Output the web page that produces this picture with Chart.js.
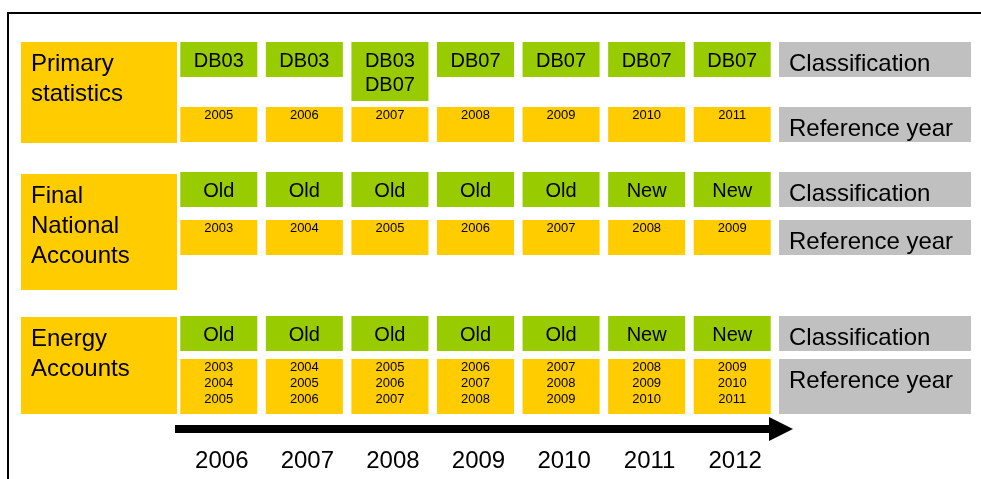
<!DOCTYPE html>
<html lang="en">

<head>
    <meta charset="UTF-8">
    <title>Classification and reference years</title>
    <script src="https://cdn.jsdelivr.net/npm/chart.js@4"></script>
    <style>
        html, body { margin: 0; padding: 0; background: #fff; }
        canvas { display: block; }
    </style>
</head>

<body>
    <canvas id="myChart" width="981" height="479"></canvas>

    <script>
        // years along the time axis
        const years = ['2006', '2007', '2008', '2009', '2010', '2011', '2012'];
        const groups = ['Primary\nstatistics', 'Final\nNational\nAccounts', 'Energy\nAccounts'];
        const rowNames = ['Classification', 'Reference year'];

        const primaryClass = ['DB03', 'DB03', 'DB03\nDB07', 'DB07', 'DB07', 'DB07', 'DB07'];
        const primaryRef = ['2005', '2006', '2007', '2008', '2009', '2010', '2011'];
        const nationalClass = ['Old', 'Old', 'Old', 'Old', 'Old', 'New', 'New'];
        const nationalRef = ['2003', '2004', '2005', '2006', '2007', '2008', '2009'];
        const energyClass = ['Old', 'Old', 'Old', 'Old', 'Old', 'New', 'New'];
        const energyRef = ['2003\n2004\n2005', '2004\n2005\n2006', '2005\n2006\n2007', '2006\n2007\n2008',
            '2007\n2008\n2009', '2008\n2009\n2010', '2009\n2010\n2011'];

        // vertical layout of each block (y axis runs top -> bottom)
        const bands = [
            { top: 42, bottom: 143, cls: 42, ref: [107, 142] },
            { top: 174, bottom: 290, cls: 172, ref: [220, 255] },
            { top: 317, bottom: 414, cls: 316, ref: [359, 414] }
        ];
        const CLS_H = 35;
        const CLS_LINE = 24;
        const FONT = "'Liberation Sans', Arial, sans-serif";
        const GREEN = '#99CC00', YELLOW = '#FFCC00', GREY = '#C0C0C0';

        const classSets = [primaryClass, nationalClass, energyClass];
        const refSets = [primaryRef, nationalRef, energyRef];

        const datasets = [];
        classSets.forEach((labels, g) => {
            datasets.push({
                label: groups[g].replace(/\n/g, ' ') + ' - ' + rowNames[0],
                kind: 'cls',
                texts: labels,
                data: labels.map(t => [bands[g].cls, bands[g].cls + CLS_H + (t.split('\n').length - 1) * CLS_LINE]),
                backgroundColor: GREEN
            });
            datasets.push({
                label: groups[g].replace(/\n/g, ' ') + ' - ' + rowNames[1],
                kind: 'ref',
                texts: refSets[g],
                data: refSets[g].map(() => [bands[g].ref[0], bands[g].ref[1]]),
                backgroundColor: YELLOW
            });
        });

        const diagramPlugin = {
            id: 'diagram',
            beforeDatasetsDraw(chart) {
                const { ctx, chartArea, scales } = chart;
                const y = scales.y;
                ctx.save();
                bands.forEach((b, g) => {
                    // block label on the left
                    const top = y.getPixelForValue(b.top);
                    const bottom = y.getPixelForValue(b.bottom);
                    ctx.fillStyle = YELLOW;
                    ctx.fillRect(21, top, chartArea.left + 1 - 21, bottom - top);
                    ctx.fillStyle = '#000';
                    ctx.font = '24px ' + FONT;
                    ctx.textAlign = 'left';
                    ctx.textBaseline = 'alphabetic';
                    groups[g].split('\n').forEach((line, i) => {
                        ctx.fillText(line, 31, top + 29 + i * 30);
                    });

                    // grey row names on the right
                    const rows = [[b.cls, b.cls + CLS_H], b.ref];
                    rows.forEach((r, i) => {
                        const t = y.getPixelForValue(r[0]);
                        const bt = y.getPixelForValue(r[1]);
                        ctx.fillStyle = GREY;
                        ctx.fillRect(chartArea.right + 4, t, 192, bt - t);
                        ctx.fillStyle = '#000';
                        ctx.fillText(rowNames[i], chartArea.right + 14, t + 29);
                    });
                });
                ctx.restore();
            },
            afterDatasetsDraw(chart) {
                const { ctx } = chart;
                ctx.save();
                ctx.fillStyle = '#000';
                ctx.textAlign = 'center';
                ctx.textBaseline = 'alphabetic';
                chart.data.datasets.forEach((ds, i) => {
                    const meta = chart.getDatasetMeta(i);
                    meta.data.forEach((bar, j) => {
                        const top = Math.min(bar.y, bar.base);
                        const lines = ds.texts[j].split('\n');
                        if (ds.kind === 'cls') {
                            ctx.font = '20px ' + FONT;
                            lines.forEach((l, k) => ctx.fillText(l, bar.x, top + 25 + k * CLS_LINE));
                        } else {
                            ctx.font = '13px ' + FONT;
                            lines.forEach((l, k) => ctx.fillText(l, bar.x, top + 12 + k * 16));
                        }
                    });
                });
                ctx.restore();
            },
            afterDraw(chart) {
                const { ctx, chartArea } = chart;
                ctx.save();
                // frame
                ctx.strokeStyle = '#000';
                ctx.lineWidth = 2;
                ctx.beginPath();
                ctx.moveTo(8, 479);
                ctx.lineTo(8, 13);
                ctx.lineTo(981, 13);
                ctx.stroke();

                // time arrow
                ctx.fillStyle = '#000';
                ctx.fillRect(chartArea.left - 1, 425, chartArea.right - 6 - (chartArea.left - 1), 8);
                ctx.beginPath();
                ctx.moveTo(chartArea.right - 6, 417);
                ctx.lineTo(chartArea.right + 18, 429);
                ctx.lineTo(chartArea.right - 6, 441);
                ctx.closePath();
                ctx.fill();
                ctx.restore();
            }
        };

        const ctx = document.getElementById('myChart').getContext('2d');
        const chart = new Chart(ctx, {
            type: 'bar',
            data: {
                labels: years,
                datasets: datasets
            },
            options: {
                responsive: false,
                animation: false,
                devicePixelRatio: 1,
                layout: {
                    padding: { left: 176, right: 206, top: 0, bottom: 0 }
                },
                datasets: {
                    bar: {
                        grouped: false,
                        categoryPercentage: 0.9,
                        barPercentage: 1,
                        borderWidth: 0
                    }
                },
                plugins: {
                    legend: { display: false },
                    tooltip: { enabled: false }
                },
                scales: {
                    x: {
                        grid: { display: false, drawTicks: false },
                        border: { display: false },
                        ticks: {
                            color: '#000',
                            font: { family: FONT, size: 24 },
                            maxRotation: 0,
                            padding: 3,
                            labelOffset: 3
                        }
                    },
                    y: {
                        display: false,
                        reverse: true,
                        min: 0,
                        max: 440
                    }
                }
            }
            ,
            plugins: [diagramPlugin]
        });

        // make one y unit equal one pixel of the plot area
        chart.options.scales.y.max = chart.chartArea.bottom - chart.chartArea.top;
        chart.update();
    </script>
</body>

</html>
